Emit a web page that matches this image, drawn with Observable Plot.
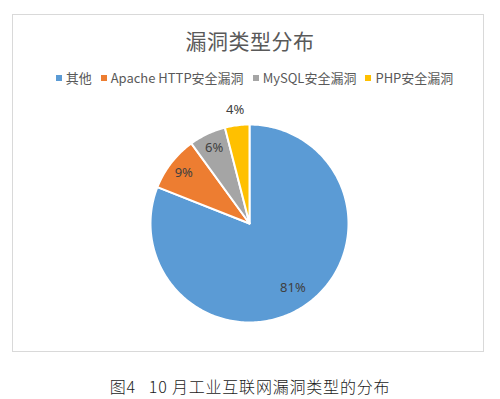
<!DOCTYPE html>
<html><head><meta charset="utf-8">
<script src="https://cdn.jsdelivr.net/npm/d3@7"></script>
<script src="https://cdn.jsdelivr.net/npm/@observablehq/plot@0.6"></script>
<style>
html,body{margin:0;padding:0;background:#fff;}
#wrap{position:relative;width:500px;height:399px;overflow:hidden;font-family:"Noto Sans CJK SC","Noto Sans",sans-serif;}
#frame{position:absolute;left:12px;top:14px;width:472px;height:338px;border:1px solid #d9d9d9;box-sizing:border-box;}
#title{position:absolute;left:0;width:500px;top:25px;text-align:center;font-size:21px;color:#595959;line-height:30px;letter-spacing:0.5px;}
#legend{position:absolute;left:0;width:500px;top:69px;text-align:center;font-size:13px;color:#595959;line-height:18px;white-space:nowrap;}
#legend span.sw{display:inline-block;width:6px;height:6px;margin:0 4px 2px 9px;vertical-align:middle;}
#chart{position:absolute;left:0;top:100px;}
#caption{position:absolute;left:0;width:500px;top:375px;text-align:center;font-size:16px;color:#1a1a1a;line-height:22px;white-space:pre;font-weight:300;letter-spacing:0.8px;}
</style></head>
<body><div id="wrap">
<div id="frame"></div>
<div id="title"></div>
<div id="legend"></div>
<div id="chart"></div>
<div id="caption"></div>
</div>
<script>
const categories = ["其他", "Apache HTTP安全漏洞", "MySQL安全漏洞", "PHP安全漏洞"];
const values = [81, 9, 6, 4];
const colors = ["#5B9BD5", "#ED7D31", "#A5A5A5", "#FFC000"];
const titleText = "漏洞类型分布";
const captionText = "图4   10 月工业互联网漏洞类型的分布";

document.getElementById("title").textContent = titleText;
document.getElementById("caption").textContent = captionText;
const lg = document.getElementById("legend");
categories.forEach((c, i) => {
  const sw = document.createElement("span"); sw.className = "sw"; sw.style.background = colors[i];
  lg.appendChild(sw);
  lg.appendChild(document.createTextNode(c));
});

const total = d3.sum(values);
const arcs = d3.pie().sort(null).startAngle(0).endAngle(2 * Math.PI)(values);
const slicePts = [];
const labels = [];
arcs.forEach((a, i) => {
  const name = categories[i];
  slicePts.push({name, x: 0, y: 0});
  const n = Math.max(2, Math.ceil((a.endAngle - a.startAngle) / (Math.PI / 180)));
  for (let k = 0; k <= n; k++) {
    const t = a.startAngle + (a.endAngle - a.startAngle) * k / n;
    slicePts.push({name, x: Math.sin(t), y: Math.cos(t)});
  }
  slicePts.push({name, x: 0, y: 0});
  const mid = (a.startAngle + a.endAngle) / 2;
  const r = values[i] / total < 0.05 ? 1.16 : (values[i] / total > 0.5 ? 0.78 : 0.84);
  labels.push({name, x: r * Math.sin(mid), y: r * Math.cos(mid), text: Math.round(values[i] / total * 100) + "%"});
});

const plot = Plot.plot({
  width: 500, height: 250,
  margin: 0,
  x: {domain: [-1, 1], range: [150, 348], axis: null},
  y: {domain: [-1, 1], range: [222, 24], axis: null},
  color: {domain: categories, range: colors},
  style: {background: "transparent", fontFamily: "'Noto Sans','Noto Sans CJK SC',sans-serif"},
  marks: [
    Plot.line(slicePts, {x: "x", y: "y", z: "name", fill: "name", stroke: "white", strokeWidth: 2, strokeLinejoin: "round"}),
    Plot.text(labels, {x: "x", y: "y", text: "text", fill: "#404040", fontSize: 13})
  ]
});
document.getElementById("chart").appendChild(plot);
</script>
</body></html>
